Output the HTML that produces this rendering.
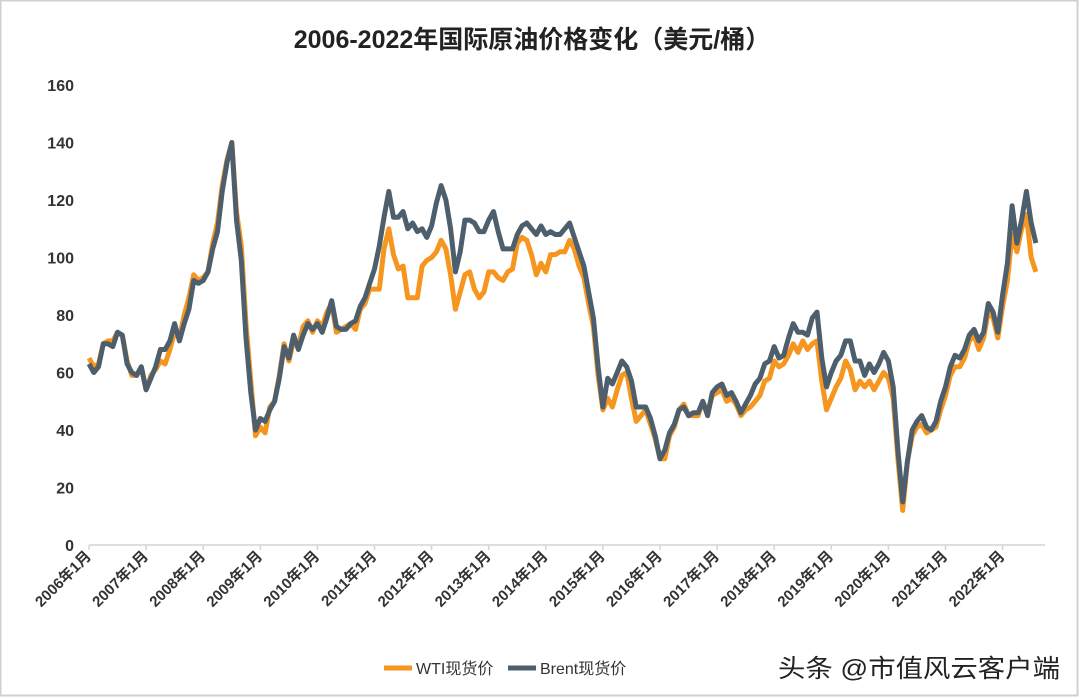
<!DOCTYPE html>
<html><head><meta charset="utf-8"><style>
body{margin:0;background:#fff;}
#wrap{position:relative;width:1080px;height:698px;overflow:hidden;background:#fff;font-family:"Liberation Sans","Noto Sans CJK SC",sans-serif;}
</style></head><body>
<div id="wrap">
<svg id="chart" width="1080" height="698"></svg>
</div>
<script>
const months = [];
for (let y = 2006; y <= 2022; y++) for (let m = 1; m <= 12; m++) months.push(y + '-' + m);
const wti = [65,62,63,70,71,71,74,73,64,59,59,62,
54,59,61,64,63,68,74,72,80,86,94,92,
93,95,105,112,125,134,140,116,104,77,57,38,
41,39,48,50,59,70,64,71,69,76,78,74,
78,76,81,84,74,75,76,77,75,82,84,89,
89,89,103,110,101,96,97,86,86,86,97,99,
100,102,106,103,94,82,88,94,95,89,86,88,
95,95,93,92,95,96,105,107,106,101,94,98,
95,101,101,102,102,106,103,97,93,84,76,59,
47,51,48,54,59,60,51,43,45,47,42,37,
30,30,38,41,47,49,45,45,45,50,46,52,
53,54,50,51,49,45,47,48,50,52,57,58,
64,62,63,66,70,67,71,68,70,71,57,47,
51,55,58,64,61,54,57,55,57,54,57,60,
58,51,30,12,29,38,41,42,39,40,41,47,
52,59,62,62,65,71,73,68,72,81,79,72,
83,92,108,102,110,115,100,95];
const brent = [63,60,62,70,70,69,74,73,63,60,59,62,
54,58,62,68,68,71,77,71,77,82,92,91,
92,95,103,109,123,133,140,113,99,72,53,40,
44,43,47,50,58,69,65,73,68,73,77,75,
77,74,79,85,76,75,75,77,78,83,86,91,
96,104,114,123,114,114,116,110,112,109,110,107,
111,119,125,120,110,95,102,113,113,112,109,109,
113,116,109,103,103,103,108,111,112,110,108,111,
108,109,108,108,110,112,107,102,97,88,79,62,
48,58,56,60,64,62,57,48,48,48,44,38,
30,33,39,42,47,48,45,46,46,50,45,53,
55,56,52,53,50,46,49,52,56,58,63,64,
69,65,66,72,77,74,74,73,79,81,65,55,
60,64,66,71,71,64,64,59,63,60,63,67,
64,55,33,15,29,40,43,45,41,40,43,50,
55,62,66,65,68,73,75,71,74,84,81,74,
87,98,118,105,113,123,112,105];
const yTicks = [0,20,40,60,80,100,120,140,160];
const xLabels = ['2006年1月','2007年1月','2008年1月','2009年1月','2010年1月','2011年1月','2012年1月','2013年1月','2014年1月','2015年1月','2016年1月','2017年1月','2018年1月','2019年1月','2020年1月','2021年1月','2022年1月'];

const NS='http://www.w3.org/2000/svg';
const svg=document.getElementById('chart');
const x0=89, pxYear=57.1, yBase=545, yTop=85, vMax=160;
const xs=i=>x0+i*pxYear/12;
const ys=v=>yBase-v*(yBase-yTop)/vMax;
function mk(t,a,p){const e=document.createElementNS(NS,t);for(const k in a)e.setAttribute(k,a[k]);(p||svg).appendChild(e);return e;}

const border=mk('rect',{x:0.5,y:0.5,width:1077,height:695,fill:'none',stroke:'#d0d0d0','stroke-width':2});



const title=mk('text',{x:532,y:48,'text-anchor':'middle','font-size':25,'font-weight':'bold',fill:'#222'});
title.textContent='2006-2022年国际原油价格变化（美元/桶）';



yTicks.forEach(v=>{
  const t=mk('text',{x:74,y:ys(v)+6,'text-anchor':'end','font-size':16,'font-weight':'bold',fill:'#333'});
  t.textContent=v;
  
  
});
const axis=mk('line',{x1:89,y1:yBase,x2:1045,y2:yBase,stroke:'#d4d4d4','stroke-width':1.5});


xLabels.forEach((l,i)=>{
  const x=xs(i*12);
  const tk=mk('line',{x1:x,y1:yBase,x2:x,y2:yBase+5,stroke:'#d4d4d4','stroke-width':1.5});
  
  
  const t=mk('text',{x:x+3,y:yBase+12,'text-anchor':'end','font-size':15,'font-weight':'bold',fill:'#333',transform:`rotate(-45 ${x+3} ${yBase+12})`});
  t.textContent=l;
  
  
});
function line(arr,color,name){
  const d=arr.map((v,i)=>(i?'L':'M')+xs(i).toFixed(1)+','+ys(v).toFixed(1)).join('');
  const p=mk('path',{d:d,fill:'none',stroke:color,'stroke-width':5,'stroke-linejoin':'round'});
  
  
}
line(wti,'#f7961e','wti-line');
line(brent,'#4d5e6c','brent-line');

const lg1=mk('line',{x1:384,y1:668,x2:412,y2:668,stroke:'#f7961e','stroke-width':5});


const lt1=mk('text',{x:416,y:674,'font-size':16,fill:'#333'});
lt1.textContent='WTI现货价';


const lg2=mk('line',{x1:508,y1:668,x2:536,y2:668,stroke:'#4d5e6c','stroke-width':5});


const lt2=mk('text',{x:540,y:674,'font-size':16,fill:'#333'});
lt2.textContent='Brent现货价';


const wm=mk('text',{x:778,y:677,'font-size':25,fill:'#222',textLength:282,lengthAdjust:'spacingAndGlyphs'});
wm.textContent='头条 @市值风云客户端';


</script>
</body></html>
